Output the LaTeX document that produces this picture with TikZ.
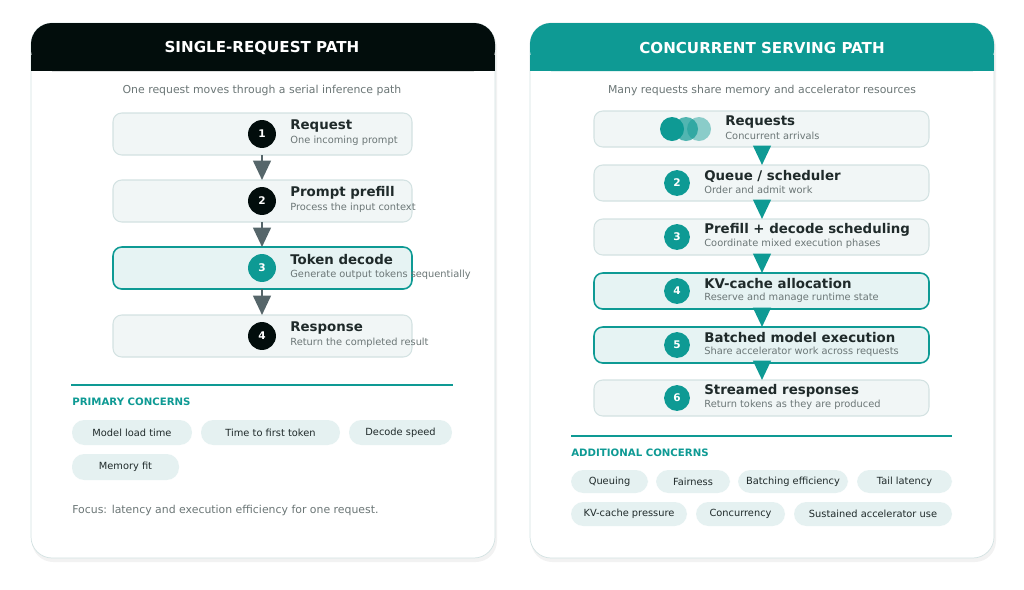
\documentclass[tikz,border=0pt]{standalone}
\usepackage{fontspec}
\setmainfont{DejaVu Sans}
\usetikzlibrary{arrows.meta,positioning}
\definecolor{teal0}{HTML}{0E9A94}
\definecolor{ink}{HTML}{1F2A2A}
\definecolor{muted}{HTML}{6B7676}
\definecolor{boxfill}{HTML}{F1F6F6}
\definecolor{boxline}{HTML}{D3E2E2}
\definecolor{hifill}{HTML}{E6F3F3}
\definecolor{pillfill}{HTML}{E5F1F1}
\definecolor{head}{HTML}{020D0C}
\definecolor{arrowgray}{HTML}{56666A}
\tikzset{
  stepbox/.style={draw=boxline, fill=boxfill, rounded corners=5pt, line width=0.6pt},
  hstepbox/.style={draw=teal0, fill=hifill, rounded corners=5pt, line width=0.9pt},
  num/.style={circle, inner sep=0pt, text=white, font=\bfseries\fontsize{6}{7}\selectfont},
  ttl/.style={anchor=west, inner sep=0pt, text=ink, font=\bfseries\fontsize{7.6}{9}\selectfont},
  sub/.style={anchor=west, inner sep=0pt, text=muted, font=\fontsize{5.6}{7}\selectfont},
  pill/.style={fill=pillfill, rounded corners=7pt},
  ptext/.style={text=ink, font=\fontsize{5.6}{7}\selectfont},
  flow/.style={line width=1.4pt, -{Triangle[width=10pt,length=11pt]}},
}
\begin{document}
\begin{tikzpicture}[x=0.02cm, y=-0.02cm]
\useasboundingbox (0,0) rectangle (1024,589);
% panels
\foreach \px/\hc in {31/head, 530/teal0}{
  \fill[black!5, rounded corners=12pt] ({\px+1},26) rectangle ({\px+466},562);
  \draw[boxline, fill=white, rounded corners=12pt] (\px,23) rectangle ({\px+464},558);
  \fill[\hc, rounded corners=12pt] (\px,23) rectangle ({\px+464},71);
  \fill[\hc] (\px,55) rectangle ({\px+464},71);
}
\node[text=white, font=\bfseries\fontsize{8.6}{10}\selectfont] (lhead) at (262,48) {SINGLE-REQUEST PATH};
\node[text=white, font=\bfseries\fontsize{8.6}{10}\selectfont] (rhead) at (762,48) {CONCURRENT SERVING PATH};
\node[text=muted, font=\fontsize{6.2}{8}\selectfont] (lsub) at (262,90) {One request moves through a serial inference path};
\node[text=muted, font=\fontsize{6.2}{8}\selectfont] (rsub) at (762,90) {Many requests share memory and accelerator resources};

% single-request steps
\foreach \i/\y/\s/\c/\t/\d in {
  1/134/stepbox/head/Request/One incoming prompt,
  2/201/stepbox/head/Prompt prefill/Process the input context,
  3/268/hstepbox/teal0/Token decode/Generate output tokens sequentially,
  4/336/stepbox/head/Response/Return the completed result}{
  \draw[\s] (113,{\y-21}) rectangle (412,{\y+21});
  \coordinate (lb\i) at (262,{\y+21});
  \coordinate (lh\i) at (262,{\y-21});
  \node[num, fill=\c, minimum size=15.9pt] (l\i) at (262,\y) {\i};
  \node[ttl] (lt\i) at (290,{\y-8}) {\t};
  \node[sub] (ld\i) at (290,{\y+7}) {\d};
}
\foreach \a/\b in {1/2, 2/3, 3/4}
  \draw[flow, arrowgray] (lb\a) -- (lh\b);

% concurrent steps
\draw[stepbox] (594,111) rectangle (929,147);
\coordinate (rb1) at (762,147);
\fill[teal0] (672,129) circle (12);
\fill[teal0, opacity=.7] (686,129) circle (12);
\fill[teal0, opacity=.45] (699,129) circle (12);
\node[ttl] (rt1) at (725,122) {Requests};
\node[sub] (rd1) at (725,136) {Concurrent arrivals};
\foreach \i/\y/\s/\t/\d in {
  2/183/stepbox/{Queue / scheduler}/Order and admit work,
  3/237/stepbox/Prefill + decode scheduling/Coordinate mixed execution phases,
  4/291/hstepbox/KV-cache allocation/Reserve and manage runtime state,
  5/345/hstepbox/Batched model execution/Share accelerator work across requests,
  6/398/stepbox/Streamed responses/Return tokens as they are produced}{
  \draw[\s] (594,{\y-18}) rectangle (929,{\y+18});
  \coordinate (rb\i) at (762,{\y+18});
  \coordinate (rh\i) at (762,{\y-18});
  \node[num, fill=teal0, minimum size=14.7pt] (rn\i) at (677,\y) {\i};
  \node[ttl] (rt\i) at (704,{\y-7}) {\t};
  \node[sub] (rd\i) at (704,{\y+7}) {\d};
}
\foreach \a/\b in {1/2, 2/3, 3/4, 4/5, 5/6}
  \draw[flow, teal0] (rb\a) -- (rh\b);

% concerns
\draw[teal0, line width=0.6pt] (71,385) -- (453,385);
\node[anchor=west, inner sep=0pt, text=teal0, font=\bfseries\fontsize{5.8}{7}\selectfont] (lcon) at (72,402) {PRIMARY CONCERNS};
\foreach \n/\xa/\xb/\ya/\yb/\t in {
  p1/72/192/420/445/Model load time, p2/201/340/420/445/Time to first token,
  p3/349/452/420/445/Decode speed, p4/72/179/454/480/Memory fit}{
  \fill[pill] (\xa,\ya) rectangle (\xb,\yb);
  \node[ptext] (\n) at ({(\xa+\xb)/2},{(\ya+\yb)/2}) {\t};
}
\node[anchor=west, inner sep=0pt, text=muted, font=\fontsize{6.2}{8}\selectfont] (focus) at (72,510) {Focus: latency and execution efficiency for one request.};

\draw[teal0, line width=0.6pt] (571,436) -- (952,436);
\node[anchor=west, inner sep=0pt, text=teal0, font=\bfseries\fontsize{5.8}{7}\selectfont] (rcon) at (571,453) {ADDITIONAL CONCERNS};
\foreach \n/\xa/\xb/\ya/\yb/\t in {
  q1/571/648/470/493/Queuing, q2/656/730/470/493/Fairness,
  q3/738/848/470/493/Batching efficiency, q4/857/952/470/493/Tail latency,
  q5/571/687/502/526/KV-cache pressure, q6/696/785/502/526/Concurrency,
  q7/794/952/502/526/Sustained accelerator use}{
  \fill[pill] (\xa,\ya) rectangle (\xb,\yb);
  \node[ptext] (\n) at ({(\xa+\xb)/2},{(\ya+\yb)/2}) {\t};
}
\end{tikzpicture}
\end{document}
